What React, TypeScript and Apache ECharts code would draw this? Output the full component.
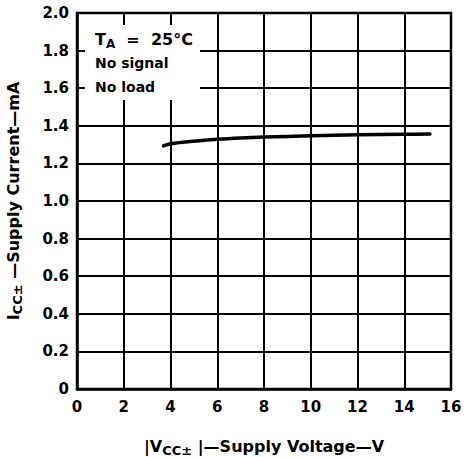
import React, { useEffect, useRef } from "react";
import * as echarts from "echarts";

const supplyVoltage = [3.7, 4, 5, 6, 7, 8, 10, 12, 14, 15.1];
const supplyCurrent = [1.293, 1.304, 1.318, 1.328, 1.335, 1.34, 1.347, 1.352, 1.355, 1.356];
const xRange = [0, 16, 2];
const yRange = [0, 2, 0.2];
const noteLines = ["No signal", "No load"];

const FONT = "'DejaVu Sans', 'Liberation Sans', sans-serif";

const richStyles = (fillKey: "color" | "fill", size: number, subSize: number) => ({
  n: { fontFamily: FONT, fontWeight: "bold", fontSize: size, [fillKey]: "#000", lineHeight: 22, verticalAlign: "middle" },
  s: { fontFamily: FONT, fontWeight: "bold", fontSize: subSize, [fillKey]: "#000", lineHeight: 14, verticalAlign: "bottom" },
});

export default function App() {
  const ref = useRef<HTMLDivElement>(null);
  useEffect(() => {
    if (!ref.current) return;
    const chart = echarts.init(ref.current, undefined, { renderer: "svg" });
    const data = supplyVoltage.map((v, i) => [v, supplyCurrent[i]]);
    chart.setOption({
      animation: false,
      backgroundColor: "#fff",
      grid: {
        left: 77,
        right: 18,
        top: 13,
        bottom: 68,
        show: true,
        borderColor: "#000",
        borderWidth: 2.5,
        containLabel: false,
        outerBoundsMode: "none",
      },
      xAxis: {
        type: "value",
        min: xRange[0],
        max: xRange[1],
        interval: xRange[2],
        axisLine: { show: true, onZero: false, lineStyle: { color: "#000", width: 2.5 } },
        axisTick: { show: false },
        splitLine: { show: true, lineStyle: { color: "#000", width: 2 } },
        axisLabel: {
          color: "#000",
          fontFamily: FONT,
          fontWeight: "bold",
          fontSize: 15,
          margin: 10,
        },
        nameLocation: "middle",
        nameGap: 46,
        name: "{n||V}{s|CC±}{n| |—Supply Voltage—V}",
        nameTextStyle: { rich: richStyles("color", 16, 13) },
      },
      yAxis: {
        type: "value",
        min: yRange[0],
        max: yRange[1],
        interval: yRange[2],
        axisLine: { show: true, lineStyle: { color: "#000", width: 2.5 } },
        axisTick: { show: false },
        splitLine: { show: true, lineStyle: { color: "#000", width: 2 } },
        axisLabel: {
          color: "#000",
          fontFamily: FONT,
          fontWeight: "bold",
          fontSize: 15,
          margin: 8,
          formatter: (v: number) => (v === 0 ? "0" : v.toFixed(1)),
        },
        nameLocation: "middle",
        nameRotate: 90,
        nameGap: 53,
        name: "{n|I}{s|CC±}{n| —Supply Current—mA}",
        nameTextStyle: { rich: richStyles("color", 16, 13) },
      },
      graphic: [
        {
          type: "rect",
          z: 10,
          shape: { x: 85, y: 25, width: 115, height: 75 },
          style: { fill: "#fff" },
        },
        {
          type: "text",
          z: 11,
          x: 95,
          y: 39,
          style: {
            text: "{n|T}{s|A}{n|  =  25°C}",
            verticalAlign: "middle",
            rich: richStyles("fill", 16, 12),
          },
        },
        ...noteLines.map((t, i) => ({
          type: "text",
          z: 11,
          x: 95,
          y: 63 + i * 24,
          style: {
            text: t,
            fontFamily: FONT,
            fontWeight: "bold",
            fontSize: 14,
            fill: "#000",
            verticalAlign: "middle",
          },
        })),
      ],
      series: [
        {
          type: "line",
          data,
          smooth: 0.3,
          showSymbol: false,
          lineStyle: { color: "#000", width: 3.5, cap: "round" },
          z: 5,
        },
      ],
    });
    return () => chart.dispose();
  }, []);
  return <div ref={ref} style={{ width: 469, height: 457, position: "absolute", left: 0, top: 0 }} />;
}
